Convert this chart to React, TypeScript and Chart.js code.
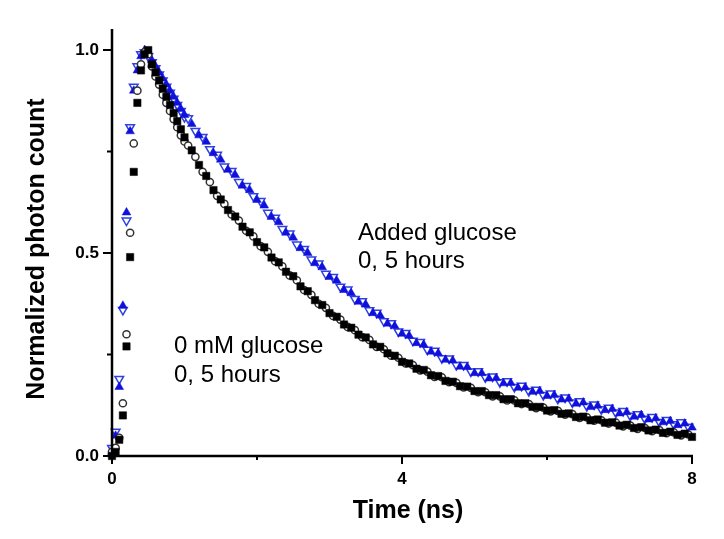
import React, { useEffect, useRef } from "react";
import { Chart, registerables } from "chart.js";

Chart.register(...registerables);

// ---- data (time in ns, normalized photon count) ----
const TIME_RISE = [0, 0.05, 0.1, 0.15, 0.2, 0.25, 0.3, 0.35, 0.4, 0.45, 0.5, 0.55, 0.6, 0.65, 0.7, 0.75, 0.8, 0.85, 0.9, 0.95, 1.0];
const TIME_A_TAIL = [
  1.1, 1.2, 1.3, 1.4, 1.5, 1.6, 1.7, 1.8, 1.9, 2.0,
  2.1, 2.2, 2.3, 2.4, 2.5, 2.6, 2.7, 2.8, 2.9, 3.0,
  3.1, 3.2, 3.3, 3.4, 3.5, 3.6, 3.7, 3.8, 3.9, 4.0,
  4.1, 4.2, 4.3, 4.4, 4.5, 4.6, 4.7, 4.8, 4.9, 5.0,
  5.1, 5.2, 5.3, 5.4, 5.5, 5.6, 5.7, 5.8, 5.9, 6.0,
  6.1, 6.2, 6.3, 6.4, 6.5, 6.6, 6.7, 6.8, 6.9, 7.0,
  7.1, 7.2, 7.3, 7.4, 7.5, 7.6, 7.7, 7.8, 7.9, 8.0,
];
const TIME_B_TAIL = [
  1.05, 1.15, 1.25, 1.35, 1.45, 1.55, 1.65, 1.75, 1.85, 1.95,
  2.05, 2.15, 2.25, 2.35, 2.45, 2.55, 2.65, 2.75, 2.85, 2.95,
  3.05, 3.15, 3.25, 3.35, 3.45, 3.55, 3.65, 3.75, 3.85, 3.95,
  4.05, 4.15, 4.25, 4.35, 4.45, 4.55, 4.65, 4.75, 4.85, 4.95,
  5.05, 5.15, 5.25, 5.35, 5.45, 5.55, 5.65, 5.75, 5.85, 5.95,
  6.05, 6.15, 6.25, 6.35, 6.45, 6.55, 6.65, 6.75, 6.85, 6.95,
  7.05, 7.15, 7.25, 7.35, 7.45, 7.55, 7.65, 7.75, 7.85, 7.95,
];

// 0 mM glucose, 0 h (filled squares)
const SQUARE_RISE = [0.0, 0.01, 0.04, 0.1, 0.27, 0.49, 0.7, 0.87, 0.95, 0.99, 1.0, 0.965, 0.945, 0.925, 0.905, 0.885, 0.865, 0.845, 0.825, 0.805, 0.785];
const SQUARE_TAIL = [
  0.753, 0.717, 0.690, 0.655, 0.632, 0.606, 0.590, 0.565, 0.551, 0.527,
  0.514, 0.489, 0.477, 0.454, 0.443, 0.418, 0.406, 0.384, 0.372, 0.352,
  0.343, 0.324, 0.316, 0.299, 0.292, 0.275, 0.269, 0.253, 0.247, 0.232,
  0.228, 0.215, 0.212, 0.199, 0.197, 0.185, 0.183, 0.172, 0.171, 0.160,
  0.160, 0.150, 0.150, 0.140, 0.140, 0.130, 0.130, 0.121, 0.121, 0.112,
  0.113, 0.104, 0.105, 0.096, 0.097, 0.088, 0.090, 0.082, 0.083, 0.075,
  0.077, 0.069, 0.071, 0.063, 0.065, 0.057, 0.060, 0.052, 0.055, 0.047,
];

// 0 mM glucose, 5 h (open circles)
const CIRCLE_RISE = [0.01, 0.02, 0.045, 0.13, 0.3, 0.55, 0.77, 0.9, 0.965, 0.995, 0.99, 0.96, 0.935, 0.915, 0.89, 0.87, 0.85, 0.83, 0.81, 0.79, 0.775];
const CIRCLE_TAIL = [
  0.765, 0.737, 0.700, 0.675, 0.641, 0.621, 0.595, 0.580, 0.555, 0.541,
  0.517, 0.503, 0.480, 0.467, 0.445, 0.433, 0.409, 0.397, 0.375, 0.365,
  0.345, 0.336, 0.318, 0.310, 0.293, 0.286, 0.269, 0.263, 0.247, 0.242,
  0.228, 0.224, 0.211, 0.208, 0.195, 0.194, 0.182, 0.180, 0.169, 0.168,
  0.157, 0.157, 0.147, 0.147, 0.137, 0.137, 0.128, 0.128, 0.118, 0.119,
  0.110, 0.111, 0.102, 0.103, 0.094, 0.095, 0.087, 0.088, 0.080, 0.082,
  0.073, 0.075, 0.067, 0.069, 0.061, 0.064, 0.056, 0.058, 0.051, 0.053,
];

// Added glucose, 0 h (filled triangles)
const TRIANGLE_RISE = [0.01, 0.05, 0.17, 0.37, 0.6, 0.8, 0.9, 0.95, 0.985, 1.0, 0.99, 0.975, 0.96, 0.945, 0.93, 0.915, 0.9, 0.885, 0.87, 0.855, 0.84];
const TRIANGLE_TAIL = [
  0.818, 0.790, 0.774, 0.746, 0.730, 0.705, 0.692, 0.666, 0.655, 0.631,
  0.617, 0.589, 0.576, 0.550, 0.538, 0.512, 0.500, 0.475, 0.465, 0.441,
  0.432, 0.409, 0.401, 0.380, 0.373, 0.352, 0.346, 0.326, 0.320, 0.301,
  0.296, 0.278, 0.274, 0.257, 0.253, 0.237, 0.235, 0.220, 0.219, 0.204,
  0.204, 0.191, 0.192, 0.179, 0.180, 0.168, 0.169, 0.158, 0.160, 0.148,
  0.150, 0.139, 0.141, 0.129, 0.132, 0.121, 0.124, 0.113, 0.116, 0.105,
  0.108, 0.097, 0.101, 0.090, 0.093, 0.083, 0.086, 0.076, 0.080, 0.070,
];

// Added glucose, 5 h (open inverted triangles)
const INV_TRIANGLE_RISE = [0.02, 0.06, 0.19, 0.36, 0.58, 0.81, 0.91, 0.96, 0.99, 0.995, 0.985, 0.97, 0.955, 0.94, 0.925, 0.91, 0.895, 0.88, 0.865, 0.85, 0.835];
const INV_TRIANGLE_TAIL = [
  0.832, 0.801, 0.786, 0.756, 0.742, 0.713, 0.702, 0.675, 0.665, 0.640,
  0.628, 0.599, 0.587, 0.559, 0.548, 0.521, 0.510, 0.484, 0.474, 0.449,
  0.441, 0.417, 0.410, 0.387, 0.381, 0.359, 0.353, 0.332, 0.327, 0.307,
  0.303, 0.284, 0.281, 0.262, 0.259, 0.241, 0.240, 0.224, 0.224, 0.208,
  0.209, 0.194, 0.196, 0.182, 0.184, 0.170, 0.173, 0.160, 0.163, 0.150,
  0.154, 0.141, 0.144, 0.132, 0.135, 0.123, 0.127, 0.115, 0.119, 0.107,
  0.111, 0.099, 0.103, 0.092, 0.096, 0.084, 0.089, 0.078, 0.083, 0.072,
];

const X_TICKS_MAJOR = [0, 4, 8];
const X_TICKS_MINOR = [2, 6];
const Y_TICKS_MAJOR = [0, 0.5, 1.0];
const Y_TICKS_MINOR = [0.25, 0.75];

const X_TITLE = "Time (ns)";
const Y_TITLE = "Normalized photon count";
const NOTE_ADDED = ["Added glucose", "0, 5 hours"];
const NOTE_ZERO = ["0 mM glucose", "0, 5 hours"];

const FONT = '"Liberation Sans", Arial, Helvetica, sans-serif';

function pts(xs: number[], ys: number[]) {
  return xs.map((x, i) => ({ x, y: ys[i] }));
}

const decorPlugin = {
  id: "decor",
  afterDatasetsDraw(chart: any) {
    const ctx = chart.ctx as CanvasRenderingContext2D;
    const { left, right, top, bottom } = chart.chartArea;
    const xs = chart.scales.x;
    const ys = chart.scales.y;
    ctx.save();
    ctx.strokeStyle = "#000";
    ctx.lineWidth = 2.5;
    ctx.lineCap = "butt";
    ctx.beginPath();
    ctx.moveTo(left, top);
    ctx.lineTo(left, bottom + 1.25);
    ctx.moveTo(left - 1.25, bottom);
    ctx.lineTo(right + 1, bottom);
    ctx.stroke();
    ctx.lineWidth = 2;
    ctx.beginPath();
    X_TICKS_MAJOR.forEach((v) => {
      const p = xs.getPixelForValue(v);
      ctx.moveTo(p, bottom);
      ctx.lineTo(p, bottom + 8);
    });
    X_TICKS_MINOR.forEach((v) => {
      const p = xs.getPixelForValue(v);
      ctx.moveTo(p, bottom);
      ctx.lineTo(p, bottom + 4);
    });
    Y_TICKS_MAJOR.forEach((v) => {
      const p = ys.getPixelForValue(v);
      ctx.moveTo(left, p);
      ctx.lineTo(left - 9, p);
    });
    Y_TICKS_MINOR.forEach((v) => {
      const p = ys.getPixelForValue(v);
      ctx.moveTo(left, p);
      ctx.lineTo(left - 5, p);
    });
    ctx.stroke();
    ctx.restore();
  },
  afterDraw(chart: any) {
    const ctx = chart.ctx as CanvasRenderingContext2D;
    ctx.save();
    ctx.fillStyle = "#000";
    ctx.textBaseline = "alphabetic";
    // axis titles
    ctx.font = `bold 25px ${FONT}`;
    ctx.textAlign = "center";
    ctx.fillText(X_TITLE, 408, 518);
    ctx.save();
    ctx.translate(44, 249);
    ctx.rotate(-Math.PI / 2);
    ctx.fillText(Y_TITLE, 0, 0);
    ctx.restore();
    // annotations
    ctx.font = `24px ${FONT}`;
    ctx.textAlign = "left";
    ctx.fillText(NOTE_ADDED[0], 358, 240);
    ctx.fillText(NOTE_ADDED[1], 358, 268);
    ctx.fillText(NOTE_ZERO[0], 174, 353);
    ctx.fillText(NOTE_ZERO[1], 174, 382);
    ctx.restore();
  },
};

export default function App() {
  const ref = useRef<HTMLCanvasElement | null>(null);
  useEffect(() => {
    if (!ref.current) return;
    const chart = new Chart(ref.current, {
      type: "scatter",
      data: {
        datasets: [
          {
            label: "0 mM, 0 h",
            data: pts(TIME_RISE.concat(TIME_A_TAIL), SQUARE_RISE.concat(SQUARE_TAIL)),
            pointStyle: "rect",
            pointRadius: 5.2,
            backgroundColor: "#000",
            borderColor: "#000",
            borderWidth: 0.5,
            clip: false,
          },
          {
            label: "0 mM, 5 h",
            data: pts(TIME_RISE.concat(TIME_B_TAIL), CIRCLE_RISE.concat(CIRCLE_TAIL)),
            pointStyle: "circle",
            pointRadius: 3.6,
            backgroundColor: "#fff",
            borderColor: "#333",
            borderWidth: 1.5,
            clip: false,
          },
          {
            label: "glucose, 0 h",
            data: pts(TIME_RISE.concat(TIME_A_TAIL), TRIANGLE_RISE.concat(TRIANGLE_TAIL)),
            pointStyle: "triangle",
            pointRadius: 5,
            backgroundColor: "#1010dc",
            borderColor: "#1010dc",
            borderWidth: 0.5,
            clip: false,
          },
          {
            label: "glucose, 5 h",
            data: pts(TIME_RISE.concat(TIME_B_TAIL), INV_TRIANGLE_RISE.concat(INV_TRIANGLE_TAIL)),
            pointStyle: "triangle",
            rotation: 180,
            pointRadius: 5,
            backgroundColor: "#fff",
            borderColor: "#2f42e0",
            borderWidth: 1.5,
            clip: false,
          },
        ],
      },
      options: {
        animation: false,
        responsive: false,
        devicePixelRatio: 1,
        layout: { padding: { top: 29, right: 32, left: 0, bottom: 0 } },
        plugins: { legend: { display: false }, tooltip: { enabled: false } },
        scales: {
          x: {
            type: "linear",
            min: 0,
            max: 8,
            border: { display: false },
            grid: { display: true, color: "rgba(0,0,0,0)", drawOnChartArea: false, tickLength: 9 },
            ticks: {
              stepSize: 4,
              includeBounds: false,
              color: "#000",
              padding: 4,
              maxRotation: 0,
              font: { family: FONT, size: 17, weight: "bold" },
            },
            afterFit: (s: any) => {
              s.height = 83;
            },
          },
          y: {
            type: "linear",
            min: 0,
            max: 1.052,
            border: { display: false },
            grid: { display: true, color: "rgba(0,0,0,0)", drawOnChartArea: false, tickLength: 9 },
            ticks: {
              stepSize: 0.5,
              includeBounds: false,
              color: "#000",
              padding: 4,
              font: { family: FONT, size: 17, weight: "bold" },
              callback: (v: any) => Number(v).toFixed(1),
            },
            afterFit: (s: any) => {
              s.width = 112;
            },
          },
        },
      },
      plugins: [decorPlugin],
    } as any);
    return () => chart.destroy();
  }, []);
  return (
    <div style={{ position: "fixed", left: 0, top: 0, width: 724, height: 539, background: "#fff" }}>
      <canvas ref={ref} width={724} height={539} style={{ display: "block" }} />
    </div>
  );
}
